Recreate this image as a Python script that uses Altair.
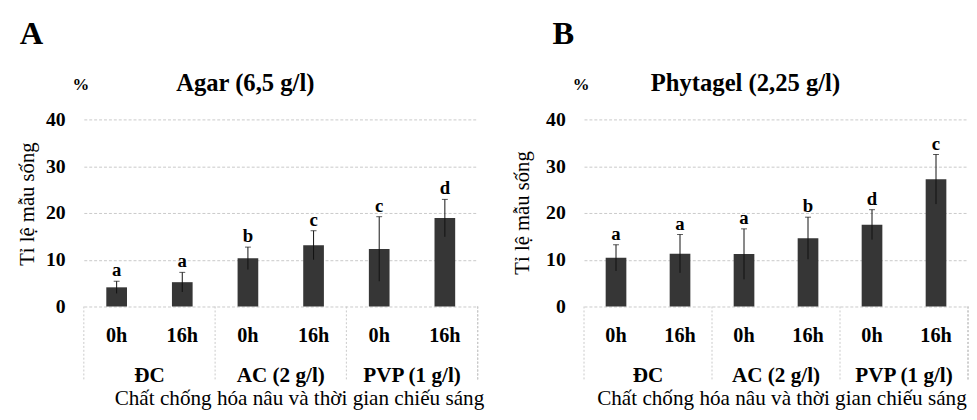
import altair as alt
import pandas as pd

groups = ["ĐC", "ĐC", "AC (2 g/l)", "AC (2 g/l)", "PVP (1 g/l)", "PVP (1 g/l)"]
times = ["0h", "16h", "0h", "16h", "0h", "16h"]

agar_mean = [4.1, 5.2, 10.3, 13.1, 12.3, 18.9]
agar_err = [1.3, 2.1, 2.4, 3.1, 6.9, 4.0]
agar_letters = ["a", "a", "b", "c", "c", "d"]

phy_mean = [10.4, 11.3, 11.2, 14.6, 17.5, 27.2]
phy_err = [2.8, 4.1, 5.4, 4.5, 3.2, 5.3]
phy_letters = ["a", "a", "a", "b", "d", "c"]

y_ticks = [0, 10, 20, 30, 40]
group_names = ["ĐC", "AC (2 g/l)", "PVP (1 g/l)"]

FONT = "Times New Roman"
BAR = "#363636"
GRID = "#c9c9c9"
H = 190
keys = [f"{g}|{t}" for g, t in zip(groups, times)]

X_AXIS = alt.Axis(title="", labelExpr="split(datum.label, '|')[1]",
                  labelAngle=0, domain=False, ticks=False, grid=False,
                  labelFont=FONT, labelFontSize=20.5, labelFontWeight="bold",
                  labelColor="black", labelPadding=30, labelBaseline="middle")
Y_AXIS = alt.Axis(title="", values=y_ticks, domain=False, ticks=False,
                  grid=True, gridColor=GRID, gridDash=[3, 2],
                  labelFont=FONT, labelFontSize=20, labelFontWeight="bold",
                  labelColor="black", labelPadding=19)


def panel(letter, title, means, errs, lets, W, xt_dx, yt_x, yt_y, letter_x):
    df = pd.DataFrame({
        "key": keys, "mean": means, "err": errs, "letter": lets,
    })
    df["lo"] = df["mean"] - df["err"]
    df["hi"] = df["mean"] + df["err"]
    xs = alt.Scale(domain=keys, paddingInner=0, paddingOuter=0)
    ys = alt.Scale(domain=[0, 40])
    base = alt.Chart(df)

    def X(f, **kw):
        return alt.X(f, sort=keys, scale=xs, axis=X_AXIS, **kw)

    def Y(f):
        return alt.Y(f, scale=ys, axis=Y_AXIS)

    bars = base.mark_bar(size=21, color=BAR).encode(x=X("key:N"), y=Y("mean:Q"))
    err = base.mark_rule(color="#111111", strokeWidth=1).encode(
        x=X("key:N"), y=Y("lo:Q"), y2="hi:Q")
    cap = base.mark_tick(color="#111111", size=6, thickness=1).encode(
        x=X("key:N"), y=Y("hi:Q"))
    txt = base.mark_text(font=FONT, fontSize=19, fontWeight="bold", color="black",
                         baseline="bottom", dy=-1).encode(
        x=X("key:N"), y=Y("hi:Q"), text="letter:N")

    gdf = pd.DataFrame({
        "start": [k for k in keys if k.endswith("|0h")],
        "mid": [k for k in keys if k.endswith("|16h")],
        "name": group_names,
    })
    gbase = alt.Chart(gdf)
    seps = gbase.mark_rule(color=GRID, strokeDash=[2, 2], strokeWidth=1).encode(
        x=X("start:N", bandPosition=0), y=alt.value(H), y2=alt.value(H + 76))
    sep_end = gbase.mark_rule(color=GRID, strokeDash=[2, 2], strokeWidth=1).encode(
        x=alt.value(W), y=alt.value(H), y2=alt.value(H + 76))
    glab = gbase.mark_text(font=FONT, fontSize=21.5, fontWeight="bold", color="black",
                           baseline="middle").encode(
        x=X("mid:N", bandPosition=0), y=alt.value(H + 71), text="name:N")

    tdf = pd.DataFrame({"letter": [letter], "title": [title], "pct": ["%"],
                        "xt": ["Chất chống hóa nâu và thời gian chiếu sáng"],
                        "yt": ["Tỉ lệ mẫu sống"]})
    tb = alt.Chart(tdf)
    t_letter = tb.mark_text(font=FONT, fontSize=33, fontWeight="bold", color="black",
                            align="left", baseline="alphabetic").encode(
        x=alt.value(letter_x), y=alt.value(-77), text="letter:N")
    t_title = tb.mark_text(font=FONT, fontSize=25, fontWeight="bold", color="black",
                           baseline="alphabetic").encode(
        x=alt.value(164), y=alt.value(-29), text="title:N")
    t_pct = tb.mark_text(font=FONT, fontSize=17, fontWeight="bold", color="black",
                         baseline="alphabetic").encode(
        x=alt.value(-3), y=alt.value(-30), text="pct:N")
    t_x = tb.mark_text(font=FONT, fontSize=21.5, color="black", baseline="middle").encode(
        x=alt.value(W / 2 + xt_dx), y=alt.value(H + 94), text="xt:N")
    t_y = tb.mark_text(font=FONT, fontSize=21, color="black", baseline="middle",
                       angle=270).encode(
        x=alt.value(yt_x), y=alt.value(yt_y), text="yt:N")

    return alt.layer(bars, err, cap, txt, seps, sep_end, glab,
                     t_letter, t_title, t_pct, t_x, t_y).properties(width=W, height=H)


pA = panel("A", "Agar (6,5 g/l)", agar_mean, agar_err, agar_letters, 400, 19, -57, 86, -65)
pB = panel("B", "Phytagel (2,25 g/l)", phy_mean, phy_err, phy_letters, 390, 6, -62, 95, -32)

chart = alt.hconcat(pA, pB, spacing=28).properties(
    padding={"left": 9, "top": 7, "right": 0, "bottom": 0},
    background="white",
).configure_view(stroke=None)

chart.save("out.html", embed_options={"renderer": "svg", "actions": False})
